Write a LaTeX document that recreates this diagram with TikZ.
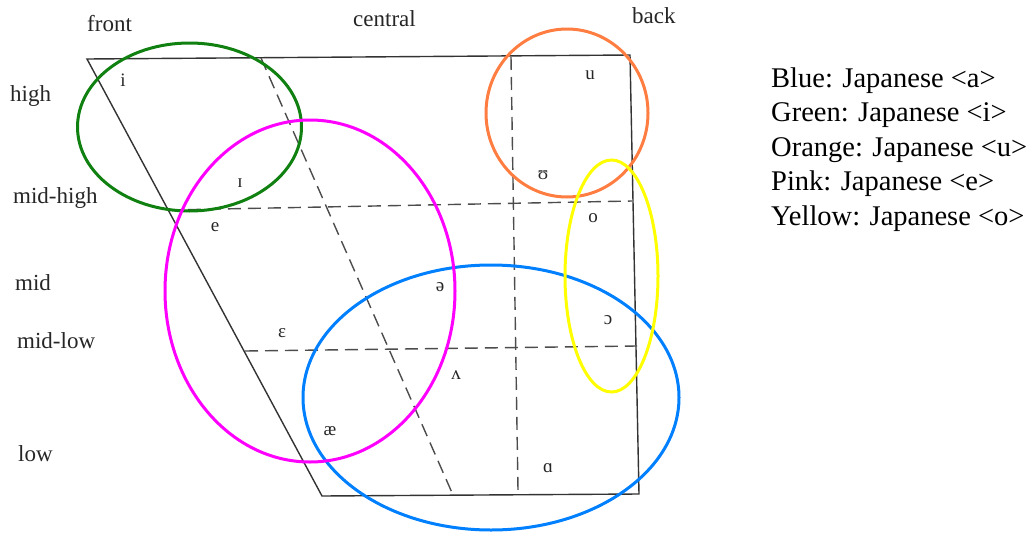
\documentclass[tikz,border=0pt]{standalone}
\usepackage{fontspec}
\setmainfont{Liberation Serif}
\usepackage{tikz}
\usetikzlibrary{positioning}
\definecolor{cBlue}{RGB}{0,128,255}
\definecolor{cGreen}{RGB}{16,128,16}
\definecolor{cOrange}{RGB}{255,125,64}
\definecolor{cPink}{RGB}{255,0,255}
\definecolor{cYellow}{RGB}{255,255,0}

\begin{document}
\begin{tikzpicture}[
  x=1pt, y=-1pt,
  frame/.style={draw=black!80, line width=1.4pt},
  grid/.style={draw=black!70, line width=1.4pt, dash pattern=on 13pt off 7pt},
  lbl/.style={anchor=base west, inner sep=0pt, text=black!85,
    font=\fontsize{23}{27}\selectfont},
  vow/.style={inner sep=0pt, text=black!85, font=\fontsize{19}{22}\selectfont},
  ring/.style={line width=3pt},
  leg/.style={anchor=base west, inner sep=0pt, font=\fontsize{28.5}{34}\selectfont}]
\useasboundingbox (0,0) rectangle (1031,533);
\coordinate (tl) at (87,59);
\coordinate (tr) at (630,55);
\coordinate (br) at (639,494);
\coordinate (bl) at (322,496);
\coordinate (mh1) at (168,210);
\coordinate (mh2) at (632,201);
\coordinate (ml1) at (245,351);
\coordinate (ml2) at (637,346);
\coordinate (ct) at (511,57);
\coordinate (cb) at (518,490);
\coordinate (dt) at (261,58);
\coordinate (db) at (453,495);
\draw[frame] (tl) -- (tr) -- (br) -- (bl) -- cycle;
\draw[grid] (mh1) -- (mh2);
\draw[grid] (ml1) -- (ml2);
\draw[grid] (ct) -- (cb);
\draw[grid] (dt) -- (db);

\node[lbl] (front) at (87,31) {front};
\node[lbl] (central) at (353,26) {central};
\node[lbl] (back) at (632,23) {back};
\node[lbl] (high) at (10,101) {high};
\node[lbl] (midhigh) at (13,203) {mid-high};
\node[lbl] (mid) at (15,290) {mid};
\node[lbl] (midlow) at (17,348) {mid-low};
\node[lbl] (low) at (18,461) {low};

\node[vow] (vi) at (123,80) {i};
\node[vow] (vI) at (240,183) {ɪ};
\node[vow] (ve) at (215,227) {e};
\node[vow] (vE) at (282,333) {ɛ};
\node[vow] (vae) at (330,431) {æ};
\node[vow] (vschwa) at (440,287) {ə};
\node[vow] (vV) at (456,375) {ʌ};
\node[vow] (vA) at (548,468) {ɑ};
\node[vow] (vO) at (608,320) {ɔ};
\node[vow] (vu) at (590,75) {u};
\node[vow] (vU) at (543,175) {ʊ};
\node[vow] (vo) at (593,218) {o};

\draw[ring, cGreen] (189.5,127) ellipse [x radius=112pt, y radius=84pt];
\draw[ring, cBlue] (491,397.5) ellipse [x radius=188pt, y radius=132.5pt];
\draw[ring, cPink] (310,291) ellipse [x radius=145pt, y radius=171pt];
\draw[ring, cOrange] (567,113) ellipse [x radius=81pt, y radius=84pt];
\draw[ring, cYellow] (611.5,276) ellipse [x radius=46.5pt, y radius=116pt];

\foreach \t [count=\k] in {Blue: Japanese <a>, Green: Japanese <i>,
    Orange: Japanese <u>, Pink: Japanese <e>, Yellow: Japanese <o>}
  \node[leg] (leg\k) at (771,{87+34.5*(\k-1)}) {\t};
\end{tikzpicture}
\end{document}
